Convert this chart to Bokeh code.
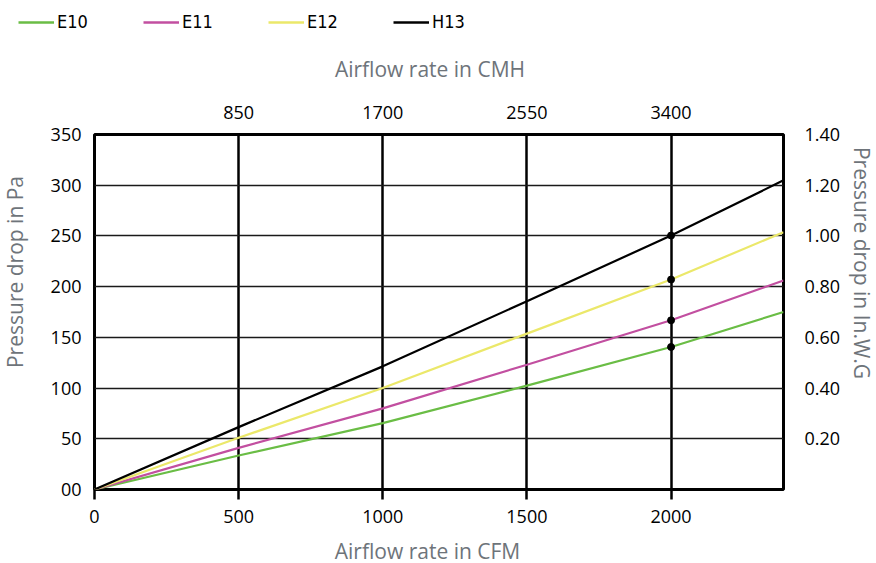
import math
from bokeh.plotting import figure
from bokeh.layouts import column, row
from bokeh.models import (Range1d, LinearAxis, FixedTicker, Legend,
                          LegendItem, PrintfTickFormatter, Label)
from bokeh.embed import file_html
from bokeh.resources import INLINE

# ---------------- data ----------------
cfm = [0, 500, 1000, 1500, 2000, 2390]
e10 = [0, 33.5, 65.5, 102.4, 140.5, 175.0]
e11 = [0, 41.0, 80.0, 123.0, 166.8, 206.0]
e12 = [0, 51.0, 100.0, 153.7, 207.0, 253.7]
h13 = [0, 61.5, 121.4, 185.6, 250.4, 304.8]

series_names = ["E10", "E11", "E12", "H13"]
series_values = [e10, e11, e12, h13]
series_colors = ["#6abd45", "#c24fa0", "#ebe86a", "#000000"]

marked_cfm = 2000

pa_ticks = [0, 50, 100, 150, 200, 250, 300, 350]
pa_overrides = {0: "00"}
cfm_ticks = [0, 500, 1000, 1500, 2000]
cmh_ticks = [850, 1700, 2550, 3400]
inwg_ticks = [0.2, 0.4, 0.6, 0.8, 1.0, 1.2, 1.4]

x_title = "Airflow rate in CFM"
x2_title = "Airflow rate in CMH"
y_title = "Pressure drop in Pa"
y2_title = "Pressure drop in In.W.G"

x_max_cfm = 2390
cmh_per_cfm = 1.7
y_max_pa = 350
y_max_inwg = 1.4

TICK_FONT = "Open Sans"
TITLE_COLOR = "#6e747a"

# layout sizes
TOP_H, BOT_H = 90, 28
LEFT_W, RIGHT_W = 40, 31
FRAME_W, FRAME_H = 689, 355
MB_L, MB_R, MB_T, MB_B = 54, 62, 44, 46
MID_H = MB_T + FRAME_H + MB_B


def strip(w, h, top_b=0, bot_b=0):
    s = figure(width=w, height=h, x_range=Range1d(-2, -1),
               y_range=Range1d(-2, -1), output_backend="svg",
               toolbar_location=None, x_axis_location=None,
               y_axis_location=None, min_border_left=0, min_border_right=0,
               min_border_top=top_b, min_border_bottom=bot_b)
    s.outline_line_color = None
    s.xgrid.visible = False
    s.ygrid.visible = False
    return s


tstyle = dict(x_units="screen", y_units="screen", text_font="Open Sans",
              text_font_size="21px", text_color=TITLE_COLOR,
              text_align="center", text_baseline="alphabetic")

# ---------------- top strip: legend + CMH title ----------------
top = strip(876, TOP_H)
leg_items = []
for name, vals, col in zip(series_names, series_values, series_colors):
    r = top.line(cfm, vals, line_color=col, line_width=2.7)
    leg_items.append(LegendItem(label=name, renderers=[r]))
legend = Legend(items=leg_items, location=(18, 58), orientation="horizontal",
                glyph_width=36, glyph_height=20, label_height=20,
                label_width=86, label_standoff=3, spacing=0,
                padding=0, margin=0, border_line_color=None,
                background_fill_alpha=0,
                label_text_font="DejaVu Sans Condensed, Liberation Sans",
                label_text_font_size="18px", label_text_color="black")
top.add_layout(legend)
top.add_layout(Label(x=429.5, y=22, text=x2_title, **tstyle))

# ---------------- left / right / bottom strips ----------------
left = strip(LEFT_W, MID_H, MB_T, MB_B)
left.add_layout(Label(x=14, y=217.5, angle=math.pi / 2,
                      text=y_title, **tstyle))

right = strip(RIGHT_W, MID_H, MB_T, MB_B)
right.add_layout(Label(x=16, y=226.5, angle=-math.pi / 2,
                       text=y2_title, **tstyle))

bottom = strip(876, BOT_H)
bottom.add_layout(Label(x=427, y=13, text=x_title, **tstyle))

# ---------------- main figure ----------------
p = figure(frame_width=FRAME_W, frame_height=FRAME_H,
           x_range=Range1d(0, x_max_cfm), y_range=Range1d(0, y_max_pa),
           output_backend="svg", toolbar_location=None,
           min_border_left=MB_L, min_border_right=MB_R,
           min_border_top=MB_T, min_border_bottom=MB_B)
p.background_fill_color = "white"
p.border_fill_color = "white"
p.outline_line_color = "black"
p.outline_line_width = 3

p.extra_x_ranges = {"cmh": Range1d(0, x_max_cfm * cmh_per_cfm)}
p.extra_y_ranges = {"inwg": Range1d(0, y_max_inwg)}

# bottom axis (CFM)
xa = p.xaxis[0]
xa.ticker = FixedTicker(ticks=cfm_ticks)
xa.major_tick_out = 10
xa.major_tick_in = 0
xa.major_tick_line_width = 2.5
xa.major_tick_line_color = "black"
xa.minor_tick_line_color = None
xa.axis_line_color = None
xa.major_label_standoff = 10

# left axis (Pa)
ya = p.yaxis[0]
ya.ticker = FixedTicker(ticks=pa_ticks)
ya.major_label_overrides = pa_overrides
ya.major_tick_line_color = None
ya.minor_tick_line_color = None
ya.axis_line_color = None
ya.major_label_standoff = 7

# top axis (CMH)
ta = LinearAxis(x_range_name="cmh", ticker=FixedTicker(ticks=cmh_ticks))
ta.major_tick_line_color = None
ta.minor_tick_line_color = None
ta.axis_line_color = None
ta.major_label_standoff = 10
p.add_layout(ta, "above")

# right axis (in. W.G)
ra = LinearAxis(y_range_name="inwg", ticker=FixedTicker(ticks=inwg_ticks),
                formatter=PrintfTickFormatter(format="%.2f"))
ra.major_tick_line_color = None
ra.minor_tick_line_color = None
ra.axis_line_color = None
ra.major_label_standoff = 15
p.add_layout(ra, "right")

for ax in (xa, ya, ta, ra):
    ax.major_label_text_font = TICK_FONT
    ax.major_label_text_font_size = "18px"
    ax.major_label_text_color = "black"

# grids
p.xgrid.grid_line_color = "black"
p.xgrid.grid_line_width = 2.5
p.ygrid.grid_line_color = "#1a1a1a"
p.ygrid.grid_line_width = 1.5

# ---------------- series ----------------
mark_idx = cfm.index(marked_cfm)
for name, vals, col in zip(series_names, series_values, series_colors):
    p.line(cfm, vals, line_color=col, line_width=2.2)

p.scatter([marked_cfm] * len(series_values),
          [v[mark_idx] for v in series_values],
          size=7, color="black")

layout = column(top, row(left, p, right, spacing=0), bottom, spacing=0)
open("out.html", "w").write(file_html(layout, INLINE))
